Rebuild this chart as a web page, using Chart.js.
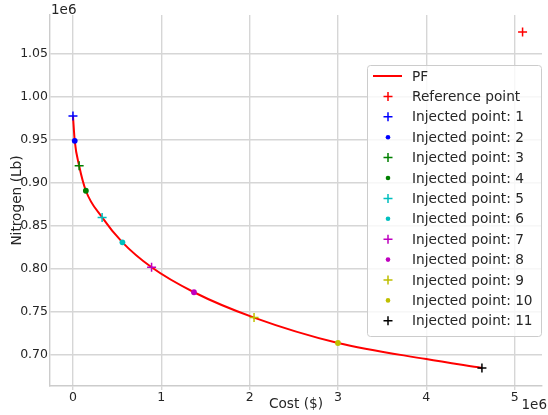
<!DOCTYPE html>
<html>
<head>
<meta charset="utf-8">
<script src="https://cdn.jsdelivr.net/npm/chart.js@4.4.1/dist/chart.umd.min.js"></script>
<style>
  html, body { margin: 0; padding: 0; background: #fff; }
  canvas { display: block; }
</style>
</head>
<body>
<canvas id="pf-chart" width="548" height="415"></canvas>
<script>
// Pareto front: cost vs nitrogen load
const pfCost = [0, 20000, 70000, 146000, 330000, 560000, 890000, 1370000, 2050000, 3000000, 4000000, 4630000]
const pfNitrogen = [978000, 949000, 920000, 891000, 860000, 831000, 802000, 773000, 743500, 714000, 695300, 685000]

const refCost = [5090000]
const refNitrogen = [1075600]

const injectedCost = [0, 20000, 70000, 146000, 330000, 560000, 890000, 1370000, 2050000, 3000000, 4630000]
const injectedNitrogen = [978000, 949000, 920000, 891000, 860000, 831000, 802000, 773000, 743500, 714000, 685000]
const injectedColors = ['#0000ff', '#0000ff', '#008000', '#008000', '#00bfbf', '#00bfbf',
                        '#bf00bf', '#bf00bf', '#bfbf00', '#bfbf00', '#000000']
const injectedStyles = ['cross', 'circle', 'cross', 'circle', 'cross', 'circle',
                        'cross', 'circle', 'cross', 'circle', 'cross']

const xTicks = [0, 1000000, 2000000, 3000000, 4000000, 5000000]
const yTicks = [700000, 750000, 800000, 850000, 900000, 950000, 1000000, 1050000]

const FONT = 'DejaVu Sans'
const TEXT = '#262626'
const GRID = '#d6d6d6'

const datasets = [
  {
    label: 'PF',
    data: pfCost.map((x, i) => ({ x: x, y: pfNitrogen[i] })),
    showLine: true,
    borderColor: '#ff0000',
    borderWidth: 2,
    pointRadius: 0,
    cubicInterpolationMode: 'monotone',
    order: 1
  },
  {
    label: 'Reference point',
    data: refCost.map((x, i) => ({ x: x, y: refNitrogen[i] })),
    pointStyle: 'cross',
    pointRadius: 4.5,
    borderColor: '#ff0000',
    borderWidth: 1.5,
    order: 0
  }
]

injectedCost.forEach((x, i) => {
  const cross = injectedStyles[i] === 'cross'
  datasets.push({
    label: 'Injected point: ' + (i + 1),
    data: [{ x: x, y: injectedNitrogen[i] }],
    pointStyle: injectedStyles[i],
    pointRadius: cross ? 4.5 : 2.9,
    borderColor: injectedColors[i],
    backgroundColor: injectedColors[i],
    borderWidth: cross ? 1.5 : 0,
    order: 0
  })
})

// matplotlib-style legend box plus the "1e6" offset labels
const extras = {
  id: 'extras',
  afterDraw(chart) {
    const ctx = chart.ctx
    ctx.save()

    ctx.fillStyle = TEXT
    ctx.font = '13.5px "' + FONT + '"'
    ctx.textBaseline = 'alphabetic'
    ctx.textAlign = 'left'
    ctx.fillText('1e6', 51, 14)
    ctx.textAlign = 'right'
    ctx.fillText('1e6', 547, 409)

    const bx = 367, by = 65, bw = 174, bh = 271
    ctx.beginPath()
    ctx.roundRect(bx + 0.5, by + 0.5, bw, bh, 3)
    ctx.fillStyle = 'rgba(255,255,255,0.8)'
    ctx.fill()
    ctx.strokeStyle = '#cccccc'
    ctx.lineWidth = 1
    ctx.stroke()

    const rowH = 20.4
    ctx.font = '13.7px "' + FONT + '"'
    ctx.textBaseline = 'middle'
    ctx.textAlign = 'left'
    chart.data.datasets.forEach((ds, i) => {
      const y = 76 + i * rowH
      const mx = 388
      if (ds.showLine) {
        ctx.strokeStyle = ds.borderColor
        ctx.lineWidth = 2
        ctx.beginPath()
        ctx.moveTo(373, y)
        ctx.lineTo(402, y)
        ctx.stroke()
      } else if (ds.pointStyle === 'cross') {
        ctx.strokeStyle = ds.borderColor
        ctx.lineWidth = 1.5
        ctx.beginPath()
        ctx.moveTo(mx - 4.5, y)
        ctx.lineTo(mx + 4.5, y)
        ctx.moveTo(mx, y - 4.5)
        ctx.lineTo(mx, y + 4.5)
        ctx.stroke()
      } else {
        ctx.fillStyle = ds.backgroundColor
        ctx.beginPath()
        ctx.arc(mx, y, 2.3, 0, Math.PI * 2)
        ctx.fill()
      }
      ctx.fillStyle = TEXT
      ctx.fillText(ds.label, 412, y + 1)
    })
    ctx.restore()
  }
}

new Chart(document.getElementById('pf-chart').getContext('2d'), {
  type: 'scatter',
  data: { datasets: datasets },
  options: {
    responsive: false,
    animation: false,
    layout: { padding: { top: 15, right: 2, left: 0, bottom: 0 } },
    plugins: {
      legend: { display: false },
      tooltip: { enabled: false }
    },
    scales: {
      x: {
        type: 'linear',
        min: -260000,
        max: 5310000,
        afterBuildTicks: scale => { scale.ticks = xTicks.map(v => ({ value: v })) },
        afterFit: scale => { scale.height = 29 },
        ticks: {
          color: TEXT,
          font: { family: FONT, size: 12.5 },
          padding: 0,
          maxRotation: 0,
          callback: v => String(v / 1000000)
        },
        grid: { color: GRID, lineWidth: 1.4, tickLength: 4, tickColor: GRID },
        border: { color: '#cccccc', width: 1.4 },
        title: {
          display: true,
          text: 'Cost ($)',
          color: TEXT,
          font: { family: FONT, size: 13.7 },
          padding: { top: 0, bottom: 2 }
        }
      },
      y: {
        type: 'linear',
        min: 664000,
        max: 1095300,
        afterBuildTicks: scale => { scale.ticks = yTicks.map(v => ({ value: v })) },
        afterFit: scale => { scale.width = 50 },
        ticks: {
          color: TEXT,
          font: { family: FONT, size: 12.5 },
          padding: 2,
          callback: v => (v / 1000000).toFixed(2)
        },
        grid: { color: GRID, lineWidth: 1.4, drawTicks: false },
        border: { color: '#cccccc', width: 1.4 },
        title: {
          display: true,
          text: 'Nitrogen (Lb)',
          color: TEXT,
          font: { family: FONT, size: 13.7 },
          padding: { top: 9, bottom: 0 }
        }
      }
    }
  },
  plugins: [extras]
})
</script>
</body>
</html>
